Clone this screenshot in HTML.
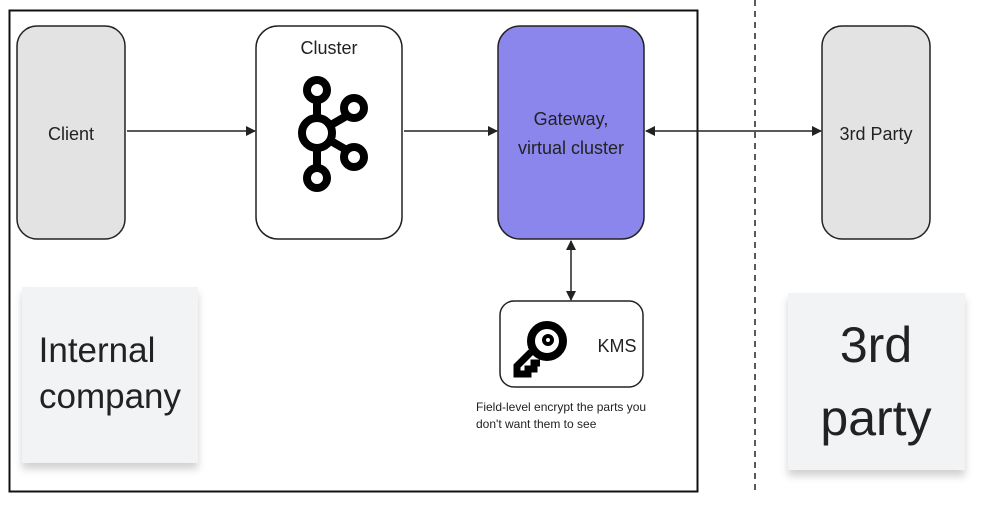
<!DOCTYPE html>
<html><head><style>
body{margin:0;background:#fff;width:981px;height:507px;overflow:hidden;font-family:"Liberation Sans","DejaVu Sans",sans-serif}
</style></head><body>
<svg width="981" height="507" viewBox="0 0 981 507" xmlns="http://www.w3.org/2000/svg" font-family="Liberation Sans, DejaVu Sans, sans-serif">
<defs>
<marker id="a" markerWidth="10" markerHeight="10" refX="9" refY="5" orient="auto-start-reverse" markerUnits="userSpaceOnUse"><path d="M0,0 L10,5 L0,10 z" fill="#222"/></marker>
<filter id="sh" x="-20%" y="-20%" width="140%" height="150%"><feDropShadow dx="0" dy="6" stdDeviation="4" flood-color="#000" flood-opacity="0.18"/></filter>
</defs>
<rect x="9.5" y="10.5" width="688" height="481" fill="none" stroke="#111" stroke-width="2"/>
<line x1="755" y1="0" x2="755" y2="492" stroke="#222" stroke-width="1.5" stroke-dasharray="6,5"/>
<rect x="17" y="26" width="108" height="213" rx="20" fill="#e3e3e3" stroke="#222" stroke-width="1.5"/>
<text x="71" y="140" text-anchor="middle" font-size="18" fill="#222">Client</text>
<rect x="256" y="26" width="146" height="213" rx="22" fill="#fff" stroke="#222" stroke-width="1.5"/>
<text x="329" y="54" text-anchor="middle" font-size="18" fill="#222">Cluster</text>
<g stroke="#000" stroke-width="8" fill="none">
<line x1="317" y1="99" x2="317" y2="170"/><line x1="317" y1="133" x2="350" y2="114"/><line x1="317" y1="133" x2="350" y2="152"/>
<circle cx="317" cy="133" r="15" fill="#fff"/>
<circle cx="317" cy="90" r="10" fill="#fff"/><circle cx="317" cy="178" r="10" fill="#fff"/>
<circle cx="354" cy="108" r="10" fill="#fff"/><circle cx="354" cy="157" r="10" fill="#fff"/>
</g>
<rect x="498" y="26" width="146" height="213" rx="22" fill="#8b86ec" stroke="#222" stroke-width="1.5"/>
<text x="571" y="125" text-anchor="middle" font-size="18" fill="#222">Gateway,</text>
<text x="571" y="154" text-anchor="middle" font-size="18" fill="#222">virtual cluster</text>
<rect x="822" y="26" width="108" height="213" rx="20" fill="#e3e3e3" stroke="#222" stroke-width="1.5"/>
<text x="876" y="140" text-anchor="middle" font-size="18" fill="#222">3rd Party</text>
<rect x="500" y="301" width="143" height="86" rx="14" fill="#fff" stroke="#222" stroke-width="1.5"/>
<text x="617" y="352" text-anchor="middle" font-size="18" fill="#222">KMS</text>
<g fill="none" stroke="#000">
<path d="M531,352 L517,366 L517,374 L528,374 L528,369 L534,369 L534,363 L540,363" stroke-width="7" stroke-linejoin="miter"/>
<circle cx="547" cy="341" r="16" stroke-width="8" fill="#fff"/>
<circle cx="548" cy="340" r="4" stroke-width="4"/>
</g>
<text x="476" y="411" font-size="12" fill="#222">Field-level encrypt the parts you</text>
<text x="476" y="428" font-size="12" fill="#222">don't want them to see</text>
<line x1="127" y1="131" x2="255" y2="131" stroke="#222" stroke-width="1.5" marker-end="url(#a)"/>
<line x1="404" y1="131" x2="497" y2="131" stroke="#222" stroke-width="1.5" marker-end="url(#a)"/>
<line x1="646" y1="131" x2="821" y2="131" stroke="#222" stroke-width="1.5" marker-start="url(#a)" marker-end="url(#a)"/>
<line x1="571" y1="241" x2="571" y2="300" stroke="#222" stroke-width="1.5" marker-start="url(#a)" marker-end="url(#a)"/>
<rect x="22" y="287" width="176" height="176" fill="#f2f3f5" filter="url(#sh)"/>
<text x="97" y="362" text-anchor="middle" font-size="35" fill="#222">Internal</text>
<text x="110" y="408" text-anchor="middle" font-size="35" fill="#222">company</text>
<rect x="788" y="293" width="177" height="177" fill="#f2f3f5" filter="url(#sh)"/>
<text x="876" y="362" text-anchor="middle" font-size="50" fill="#222">3rd</text>
<text x="876" y="435" text-anchor="middle" font-size="50" fill="#222">party</text>
</svg>
</body></html>
